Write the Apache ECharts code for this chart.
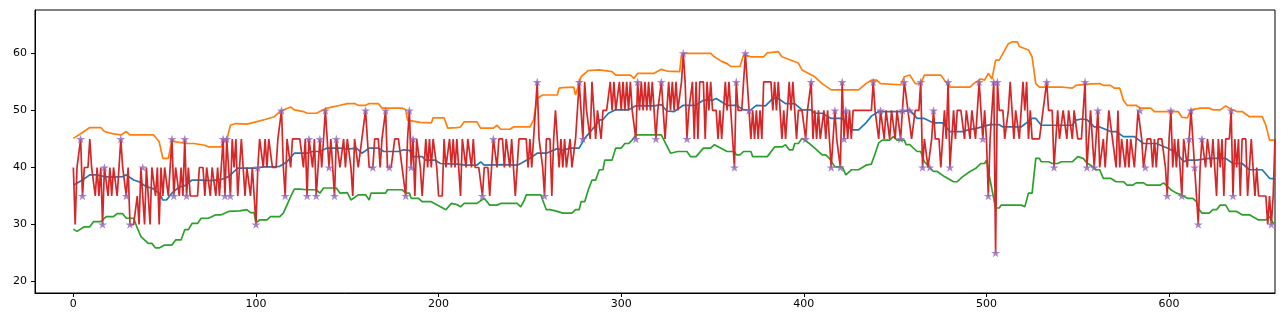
<!DOCTYPE html>
<html>
<head>
<meta charset="utf-8">
<script src="https://cdn.jsdelivr.net/npm/echarts@6/dist/echarts.min.js"></script>
<style>
  html, body { margin: 0; padding: 0; background: #fff; }
  #chart { width: 1288px; height: 320px; }
</style>
</head>
<body>
<div id="chart"></div>
<script>
// raw series, one value per index 0..658
const rawValues = [
  40,30,40,40,45,35,40,40,40,45, 40,40,35,40,35,40,30,40,40,35,
  40,35,40,40,35,40,45,40,40,35, 40,30,30,30,30,35,30,40,40,30,
  40,40,30,40,40,35,40,30,40,35, 40,40,35,40,45,35,40,40,35,40,
  35,45,35,40,35,35,35,35,35,40, 40,40,35,40,40,35,40,40,35,40,
  35,40,45,35,45,40,35,45,40,45, 35,40,45,45,35,40,40,35,40,35,
  30,40,45,45,40,45,40,45,45,40, 40,40,45,45,50,40,35,45,45,40,
  45,45,45,45,45,45,40,45,35,45, 45,40,45,35,40,45,40,45,50,45,
  40,45,40,35,45,45,40,40,45,40, 45,45,40,35,45,45,40,40,45,45,
  50,45,40,40,40,45,45,45,40,45, 45,50,40,40,40,40,45,45,45,45,
  40,40,35,45,50,40,45,35,45,45, 40,35,40,45,40,45,40,45,45,40,
  35,35,35,45,40,40,45,40,45,40, 45,40,35,45,45,40,45,45,40,45,
  40,40,40,40,35,40,40,40,35,40, 45,45,40,45,45,45,40,45,45,40,
  45,40,35,40,45,45,45,45,45,40, 45,40,45,45,55,45,45,40,35,45,
  45,45,35,45,50,45,40,45,40,45, 40,40,45,40,40,45,50,55,50,45,
  55,50,50,45,55,50,45,50,50,45, 50,50,50,50,55,50,55,50,50,55,
  50,55,50,55,50,55,50,50,45,55, 50,55,50,55,50,55,50,55,50,45,
  50,50,55,50,45,50,55,50,55,50, 55,50,50,55,60,55,45,50,50,55,
  45,55,45,55,55,55,45,55,50,55, 50,50,50,45,50,45,50,55,50,55,
  50,50,40,55,50,50,50,50,60,55, 50,45,50,45,50,45,50,45,55,55,
  55,55,55,50,55,50,55,50,45,50, 45,50,55,50,55,50,45,50,50,50,
  50,45,50,50,55,45,50,45,50,45, 45,50,45,50,45,40,45,50,45,45,
  40,55,45,50,45,50,45,50,50,50, 50,50,50,50,50,50,50,50,55,50,
  50,45,50,50,45,50,50,45,50,50, 45,50,50,45,50,55,55,50,50,45,
  45,50,50,50,55,40,45,45,40,40, 45,50,45,45,45,40,45,50,45,55,
  40,45,50,45,50,50,50,50,45,50, 50,45,50,50,45,50,55,50,45,50,
  45,35,45,50,55,25,55,50,50,50, 45,45,50,55,50,45,50,50,45,50,
  55,50,55,45,50,45,45,45,45,45, 45,50,50,55,50,50,50,40,45,50,
  45,45,50,50,45,50,50,45,50,50, 45,45,45,50,55,40,45,50,45,40,
  45,50,40,40,45,40,45,50,50,45, 45,40,50,40,45,45,40,45,40,45,
  45,40,45,50,50,45,40,40,45,45, 45,40,45,40,45,45,45,45,40,35,
  45,50,40,45,40,45,40,35,45,45, 40,45,50,45,40,35,30,40,45,45,
  40,45,45,40,45,45,35,45,40,45, 35,45,45,45,50,35,45,40,45,35,
  45,45,45,35,40,45,40,35,40,35, 35,35,35,35,30,35,30,35,45
];

// indices of the starred points
const starIdx = [
  4,5,16,17,26,29,31,38,54,55,61,62,82,83,84,86,100,101,114,116,
  128,129,133,135,138,140,143,144,160,164,171,173,182,184,185,186,
  224,230,254,258,277,279,308,309,319,322,334,336,362,363,368,370,
  401,404,415,417,420,421,422,423,438,442,453,454,455,458,464,465,
  469,471,479,480,496,498,501,504,505,506,533,537,554,555,559,561,
  584,587,599,601,607,611,612,614,616,618,634,635,656
];

// rolling mean [index, value]
const meanLine = [
  [0,36.9],[5,37.8],[9,38.7],[13,38.7],[17,38.4],[22,38.3],[27,38.4],[29,38.7],[33,37.8],[36,37.5],
  [40,36.6],[43,36.4],[47,35.5],[49,34.3],[51,34.3],[54,35.5],[58,36.6],[61,36.8],[65,37.8],[70,37.8],
  [75,37.7],[81,37.9],[85,38.4],[90,39.9],[95,39.9],[100,39.9],[104,40.1],[110,40.1],[113,40.2],[117,41.0],
  [121,42.5],[128,42.5],[131,42.8],[135,42.8],[139,43.4],[146,43.4],[150,43.2],[155,43.4],[158,42.5],[162,43.4],
  [167,43.4],[170,42.8],[178,42.8],[181,43.1],[184,43.0],[186,41.9],[191,41.9],[193,41.3],[198,41.3],[201,40.7],
  [210,40.6],[215,40.4],[221,40.4],[223,41.0],[225,40.4],[235,40.5],[243,40.4],[245,40.7],[250,41.6],[254,42.5],
  [259,42.5],[265,43.3],[268,43.0],[272,43.4],[277,43.4],[280,45.1],[284,46.6],[288,48.3],[290,48.4],[293,49.5],
  [297,50.1],[304,50.1],[308,50.8],[318,50.8],[322,51.0],[325,49.9],[329,49.8],[334,50.9],[341,50.9],[345,51.8],
  [350,51.8],[352,52.1],[358,50.9],[363,50.9],[367,50.1],[371,50.1],[374,50.9],[379,50.8],[383,52.1],[386,52.1],
  [390,51.2],[395,51.2],[399,50.1],[404,50.1],[406,49.5],[410,49.5],[415,48.6],[421,48.6],[426,46.6],[430,46.6],
  [434,47.8],[437,49.0],[441,49.8],[455,49.8],[458,50.1],[462,48.6],[466,48.6],[471,47.8],[476,47.8],[480,46.3],
  [487,46.3],[490,46.6],[495,46.9],[502,47.5],[507,47.5],[509,47.1],[519,47.1],[525,48.6],[527,48.6],[530,47.4],
  [547,47.4],[549,48.3],[552,48.5],[555,48.4],[559,47.1],[562,47.1],[568,46.3],[571,46.3],[575,45.4],[581,45.4],
  [586,44.2],[593,44.2],[599,43.4],[604,42.6],[608,41.0],[610,41.3],[615,41.3],[622,41.6],[631,41.6],[635,40.7],
  [640,40.7],[644,39.6],[651,39.6],[655,38.1],[658,38.0]
];

// upper band [index, value]
const upperLine = [
  [0,45.1],[4,45.9],[9,47.0],[15,47.0],[17,46.3],[22,45.9],[26,45.7],[27,46.0],[29,46.3],[31,45.7],
  [38,45.7],[44,45.7],[47,44.5],[49,41.6],[52,41.6],[54,44.8],[56,44.5],[62,44.2],[66,44.2],[72,43.9],
  [74,43.6],[81,43.6],[82,44.8],[84,44.8],[86,47.4],[89,47.7],[95,47.6],[100,48.0],[105,48.4],[110,48.9],
  [113,49.8],[119,50.6],[121,50.1],[126,49.8],[128,49.5],[133,49.5],[135,49.8],[139,50.4],[146,50.9],[150,51.2],
  [154,51.2],[156,50.9],[160,50.9],[162,51.2],[167,51.2],[169,50.4],[180,50.4],[182,50.1],[183,48.3],[190,47.9],
  [196,47.8],[197,48.7],[203,48.7],[205,46.9],[210,47.0],[212,47.1],[214,48.0],[221,48.0],[223,46.9],[230,46.9],
  [232,47.4],[234,46.7],[239,46.7],[241,47.1],[250,47.1],[252,48.3],[254,52.1],[257,52.7],[265,52.7],[266,53.9],
  [268,54.0],[274,54.1],[275,52.7],[276,52.7],[278,55.9],[282,57.0],[288,57.1],[295,56.8],[297,56.2],[305,56.2],
  [307,55.6],[309,56.5],[318,56.5],[322,57.2],[325,56.9],[332,56.8],[333,59.7],[335,60.0],[349,60.0],[351,59.4],
  [355,58.6],[358,58.2],[360,57.7],[365,57.7],[367,59.7],[369,59.6],[371,59.4],[378,59.4],[380,60.1],[386,60.3],
  [388,59.4],[397,58.3],[399,57.1],[406,55.9],[410,54.7],[415,53.6],[421,53.6],[430,53.6],[434,54.7],[437,55.3],
  [440,55.3],[442,54.7],[453,54.5],[455,55.9],[458,56.2],[461,54.7],[464,54.7],[466,56.2],[475,56.2],[477,55.3],
  [480,54.1],[491,54.1],[493,54.7],[497,55.5],[499,55.3],[501,56.5],[503,55.5],[505,58.8],[507,58.8],[512,61.7],
  [514,62.0],[517,62.0],[518,61.2],[523,60.6],[525,59.4],[527,54.7],[529,54.1],[541,54.1],[547,53.9],[549,54.4],
  [555,54.6],[562,54.7],[564,54.4],[568,54.4],[570,53.9],[573,53.9],[575,51.8],[577,50.9],[582,50.9],[584,50.4],
  [590,50.4],[592,49.8],[605,49.8],[607,48.8],[610,48.7],[612,50.1],[617,50.4],[622,50.4],[624,50.1],[628,50.1],
  [631,50.8],[634,50.2],[637,49.8],[640,49.8],[644,48.9],[651,48.9],[653,47.4],[655,44.8],[658,44.8]
];

// lower band [index, value]
const lowerLine = [
  [0,29.2],[2,28.8],[6,29.6],[9,29.6],[11,30.5],[15,30.5],[18,31.4],[22,31.4],[24,31.9],[27,31.9],
  [29,31.1],[33,31.1],[35,29.4],[37,27.9],[41,26.7],[43,26.7],[45,25.9],[47,25.9],[50,26.4],[54,26.4],
  [56,27.3],[59,27.3],[61,29.1],[63,29.1],[65,30.2],[68,30.2],[70,31.1],[74,31.1],[78,31.7],[81,31.7],
  [85,32.3],[91,32.4],[95,32.6],[97,32.1],[99,32.1],[100,30.3],[102,30.8],[106,30.8],[108,31.4],[113,31.4],
  [115,32.0],[119,34.9],[121,36.2],[124,36.2],[128,36.1],[133,36.1],[135,35.5],[137,36.4],[144,36.4],[146,35.5],
  [150,35.6],[152,34.3],[156,35.2],[160,35.2],[162,34.3],[163,35.5],[171,35.5],[172,36.1],[180,36.1],[182,35.5],
  [184,35.5],[185,34.6],[189,34.6],[191,34.0],[196,34.0],[200,33.3],[204,32.6],[207,33.7],[210,33.5],[212,33.1],
  [214,33.7],[221,33.7],[225,34.6],[228,33.4],[232,33.4],[234,33.7],[243,33.7],[245,33.1],[247,34.3],[248,35.2],
  [256,35.2],[257,34.3],[259,32.6],[261,32.6],[264,32.4],[268,32.0],[273,32.0],[275,32.6],[277,32.6],[278,34.0],
  [280,34.0],[282,36.1],[284,37.8],[286,37.8],[288,39.6],[290,39.6],[291,41.3],[295,41.3],[297,43.4],[300,43.4],
  [302,44.2],[304,44.2],[306,44.8],[308,45.7],[322,45.7],[324,44.4],[327,42.5],[331,42.8],[336,42.8],[338,41.9],
  [341,41.9],[345,43.4],[349,43.4],[351,44.0],[352,44.0],[358,42.8],[362,42.8],[363,42.2],[365,42.2],[367,42.8],
  [371,42.8],[372,41.9],[380,41.9],[384,43.6],[388,43.6],[390,44.0],[392,43.1],[394,43.1],[395,44.2],[397,44.2],
  [399,45.1],[403,44.2],[406,43.4],[410,42.2],[412,42.2],[414,41.6],[417,40.1],[421,40.1],[423,38.7],[426,39.6],
  [430,39.6],[434,40.4],[437,40.6],[439,42.4],[441,44.3],[443,44.8],[447,44.8],[449,45.4],[451,44.8],[455,44.8],
  [456,44.0],[458,44.0],[462,42.8],[464,42.8],[466,41.0],[467,41.0],[471,39.3],[473,39.3],[477,38.4],[478,38.4],
  [482,37.5],[484,37.5],[487,38.4],[491,39.3],[494,39.8],[497,40.7],[499,40.7],[500,41.3],[502,37.8],[505,32.9],
  [507,32.9],[508,33.4],[519,33.4],[521,33.1],[523,35.5],[525,35.5],[527,41.6],[529,41.6],[530,41.0],[534,41.0],
  [536,40.7],[539,40.7],[541,41.0],[547,41.0],[550,41.9],[553,41.6],[555,40.8],[557,40.4],[560,39.6],[562,39.6],
  [564,38.1],[568,38.1],[571,37.5],[575,37.5],[577,36.9],[580,36.9],[582,37.3],[586,37.3],[588,36.9],[595,36.9],
  [597,37.3],[601,36.1],[604,35.5],[606,35.3],[610,34.6],[613,34.6],[615,34.0],[616,32.8],[618,32.0],[622,32.0],
  [624,32.6],[626,32.6],[628,33.4],[631,33.4],[633,32.3],[637,32.3],[640,31.7],[644,31.7],[649,30.8],[653,30.8],
  [655,31.4],[657,30.2],[658,30.4]
];

const xTicks = [0, 100, 200, 300, 400, 500, 600];
const yTicks = [20, 30, 40, 50, 60];

const STAR = 'path://M0,-1L0.2245,-0.309L0.9511,-0.309L0.3633,0.118L0.5878,0.809L0,0.382L-0.5878,0.809L-0.3633,0.118L-0.9511,-0.309L-0.2245,-0.309Z';
const FONT = 'DejaVu Sans';

const chart = echarts.init(document.getElementById('chart'), null, { renderer: 'canvas' });

const lineSeries = (data, color, z) => ({
  type: 'line',
  data: data,
  showSymbol: false,
  symbol: 'none',
  lineStyle: { color: color, width: 1.7 },
  z: z,
  silent: true
});

const option = {
  animation: false,
  grid: {
    left: 35, right: 13, top: 10, bottom: 27,
    show: true, borderColor: '#000', borderWidth: 1
  },
  xAxis: {
    type: 'value',
    min: -21,
    max: 658,
    axisLine: { show: true, onZero: false, lineStyle: { color: '#000', width: 1 } },
    axisTick: { show: true, inside: false, length: 4, customValues: xTicks, lineStyle: { color: '#000' } },
    axisLabel: { customValues: xTicks, color: '#000', fontFamily: FONT, fontSize: 11, margin: 6 },
    splitLine: { show: false }
  },
  yAxis: {
    type: 'value',
    min: 18,
    max: 67.6,
    axisLine: { show: true, onZero: false, lineStyle: { color: '#000', width: 1 } },
    axisTick: { show: true, inside: false, length: 4, customValues: yTicks, lineStyle: { color: '#000' } },
    axisLabel: { customValues: yTicks, color: '#000', fontFamily: FONT, fontSize: 11, margin: 8 },
    splitLine: { show: false }
  },
  series: [
    lineSeries(meanLine, '#1f77b4', 2),
    lineSeries(upperLine, '#ff7f0e', 3),
    lineSeries(lowerLine, '#2ca02c', 4),
    lineSeries(rawValues.map((v, i) => [i, v]), '#d62728', 5),
    {
      type: 'scatter',
      data: starIdx.map(i => [i, rawValues[i]]),
      symbol: STAR,
      symbolSize: 9,
      symbolKeepAspect: true,
      itemStyle: { color: '#9467bd' },
      z: 6,
      silent: true
    }
  ]
};

chart.setOption(option);
</script>
</body>
</html>
